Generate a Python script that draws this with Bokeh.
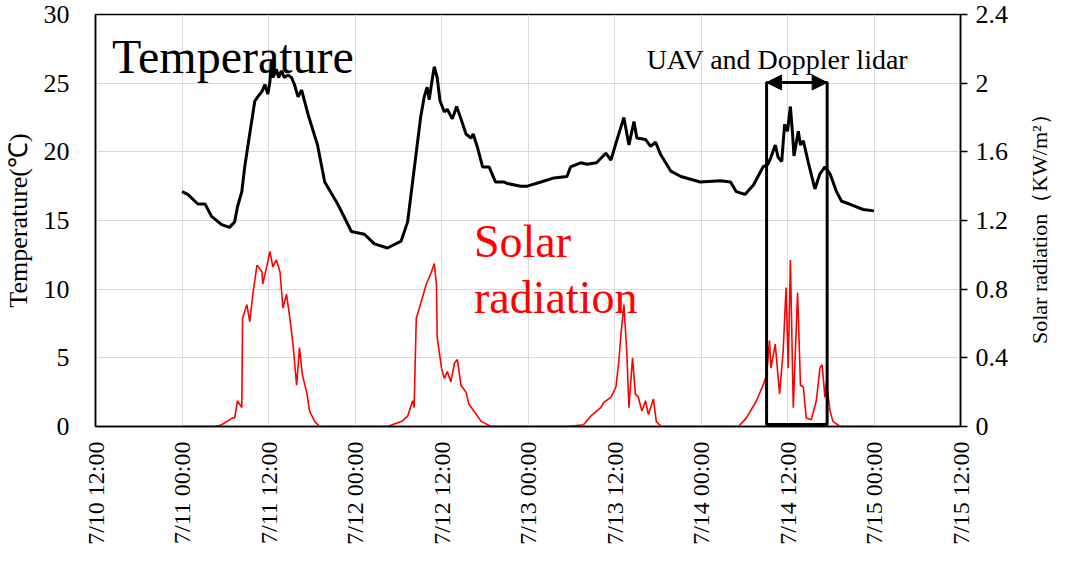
import math
from bokeh.plotting import figure
from bokeh.layouts import row
from bokeh.models import (Range1d, LinearAxis, FixedTicker, Label, Arrow, Div,
                          NormalHead, CustomJSTickFormatter)
from bokeh.embed import file_html
from bokeh.resources import INLINE

# ---------------- data (hours since 7/11 00:00) ----------------
temp_hours = [0.0, 0.8, 2.2, 3.2, 4.1, 5.5, 6.6, 7.3, 7.7, 8.3, 8.7, 9.1, 10.1, 10.5, 11.1, 11.5, 11.9,
              12.2, 12.4, 12.6, 13.1, 13.4, 13.8, 14.2, 14.7, 15.2, 15.6, 16.1, 16.6, 17.0, 17.5,
              18.8, 19.8, 21.6, 23.5, 25.3, 26.7, 28.5, 30.4, 31.3,
              33.1, 33.6, 34.0, 34.3, 34.6, 35.0, 35.4, 35.8, 36.4, 36.8, 37.5, 38.1, 38.7,
              39.4, 40.1, 40.4, 41.0, 41.7, 42.6, 43.5, 44.7,
              45.1, 47.0, 47.9, 49.8, 51.6, 53.4,
              53.9, 55.3, 56.2, 57.5, 58.8, 59.5, 60.3, 61.3, 62.0, 62.7, 63.1, 64.3,
              65.0, 65.7, 66.4, 67.8, 69.2, 71.9, 74.7, 76.1, 76.9, 78.1,
              79.3, 80.2, 80.6, 81.3, 81.7, 82.3, 82.7, 83.2, 83.6, 84.0, 84.4, 84.7, 84.9,
              85.5, 85.8, 86.2, 86.9, 87.8, 88.5, 89.2, 89.9, 90.8, 91.5, 92.6, 94.5, 96.0]
temp_values = [17.1, 16.9, 16.2, 16.2, 15.3, 14.7, 14.5, 14.9, 16.0, 17.1, 18.9, 20.3, 23.7, 24.0, 24.4, 24.9, 24.2,
               25.1, 26.7, 25.4, 26.0, 25.4, 25.9, 25.4, 25.6, 25.4, 24.9, 24.0, 24.5, 23.7, 22.7,
               20.5, 17.8, 16.2, 14.2, 14.0, 13.3, 13.0, 13.5, 14.9,
               22.5, 24.0, 24.7, 23.8, 24.9, 26.2, 25.4, 23.7, 22.9, 23.1, 22.4, 23.3, 22.4,
               21.3, 21.0, 21.3, 20.3, 18.9, 18.9, 17.8, 17.8,
               17.7, 17.5, 17.5, 17.8, 18.1, 18.2,
               18.9, 19.2, 19.1, 19.2, 19.9, 19.4, 20.8, 22.5, 20.5, 22.2, 21.0, 20.9,
               20.4, 20.7, 19.8, 18.6, 18.2, 17.8, 17.9, 17.8, 17.1, 16.9,
               17.6, 18.5, 18.9, 19.1, 19.6, 20.5, 19.6, 19.3, 22.0, 21.5, 23.3, 21.3, 19.7,
               21.5, 20.5, 20.8, 19.2, 17.3, 18.4, 18.9, 18.4, 17.1, 16.4, 16.2, 15.8, 15.7]

solar_hours = [0.0, 4.6, 5.5, 7.0, 7.3, 7.7, 8.3, 8.4, 9.0, 9.4, 9.8, 10.4, 11.1, 11.2, 11.8,
               12.2, 12.6, 13.1, 13.6, 14.0, 14.5, 14.9, 15.4, 15.9, 16.3, 16.7, 17.3, 17.7,
               18.4, 19.1,
               28.5, 30.5, 31.3, 32.0, 32.2, 32.5, 33.2, 33.9, 34.6, 35.0, 35.3, 35.4, 36.0,
               36.4, 36.8, 37.3, 37.8, 38.2, 38.7, 39.4, 39.8, 40.5, 41.5, 42.9,
               53.4, 55.7, 56.7, 58.1, 58.5, 59.5, 60.2, 60.6, 60.9, 61.3, 61.7, 62.0, 62.5,
               62.9, 63.3, 63.8, 64.3, 64.7, 65.4, 65.8, 66.5,
               77.2, 78.3, 79.7, 80.6, 81.1, 81.5, 81.7, 82.3, 82.9, 83.4, 83.8, 84.1, 84.4,
               84.8, 85.4, 85.8, 86.2, 86.6, 87.3, 88.0, 88.5, 88.8, 89.2, 89.4, 89.9, 90.3,
               91.3, 96.0]
solar_values = [0.0, 0.0, 0.01, 0.05, 0.05, 0.15, 0.11, 0.63, 0.71, 0.61, 0.76, 0.94, 0.90, 0.83, 0.94,
                1.02, 0.93, 0.97, 0.90, 0.69, 0.77, 0.65, 0.48, 0.24, 0.46, 0.30, 0.20, 0.09,
                0.03, 0.0,
                0.0, 0.03, 0.06, 0.15, 0.11, 0.63, 0.73, 0.83, 0.90, 0.95, 0.83, 0.52, 0.34,
                0.28, 0.32, 0.26, 0.37, 0.39, 0.24, 0.20, 0.13, 0.09, 0.03, 0.0,
                0.0, 0.01, 0.06, 0.11, 0.14, 0.17, 0.23, 0.38, 0.54, 0.71, 0.44, 0.11, 0.40,
                0.19, 0.17, 0.09, 0.15, 0.07, 0.16, 0.03, 0.0,
                0.0, 0.05, 0.15, 0.24, 0.30, 0.50, 0.34, 0.48, 0.19, 0.44, 0.81, 0.34, 0.97,
                0.11, 0.78, 0.24, 0.23, 0.05, 0.04, 0.15, 0.34, 0.36, 0.17, 0.26, 0.09, 0.03,
                0.0, 0.0]

x_tick_hours = [-12, 0, 12, 24, 36, 48, 60, 72, 84, 96, 108]
x_tick_labels = ["7/10 12:00", "7/11 00:00", "7/11 12:00", "7/12 00:00", "7/12 12:00",
                 "7/13 00:00", "7/13 12:00", "7/14 00:00", "7/14 12:00", "7/15 00:00",
                 "7/15 12:00"]
temp_ticks = [0, 5, 10, 15, 20, 25, 30]
solar_ticks = [0, 0.4, 0.8, 1.2, 1.6, 2.0, 2.4]
right_title = "Solar radiation（KW/m²）"

box_start_h, box_end_h = 81.1, 89.5
box_top, box_bottom = 25.05, 0.15

FONT = "Liberation Serif"

p = figure(width=1020, height=558, output_backend="svg", toolbar_location=None,
           x_range=Range1d(-12, 108), y_range=Range1d(0, 30),
           min_border_left=92, min_border_right=60, min_border_top=14,
           min_border_bottom=132)
p.outline_line_color = "black"
p.outline_line_width = 1.5
p.background_fill_color = "white"
p.border_fill_color = "white"

p.extra_y_ranges = {"sr": Range1d(0, 2.4)}

# grids
p.xgrid.ticker = FixedTicker(ticks=x_tick_hours)
p.ygrid.ticker = FixedTicker(ticks=temp_ticks)
for g in (p.xgrid, p.ygrid):
    g.grid_line_color = "#d9d9d9"
    g.grid_line_width = 1

# x axis
xa = p.xaxis[0]
xa.ticker = FixedTicker(ticks=x_tick_hours)
xa.major_label_overrides = {h: l for h, l in zip(x_tick_hours, x_tick_labels)}
xa.major_label_orientation = math.pi / 2
xa.major_label_text_font = FONT
xa.major_label_text_font_size = "24px"
xa.major_label_text_color = "black"
xa.major_tick_out = 0
xa.major_tick_in = 0
xa.minor_tick_out = 0
xa.minor_tick_in = 0
xa.major_label_standoff = 15
xa.axis_line_color = "black"
xa.axis_line_width = 1.5

# left axis
ya = p.yaxis[0]
ya.ticker = FixedTicker(ticks=temp_ticks)
ya.major_label_text_font = FONT
ya.major_label_text_font_size = "26px"
ya.major_label_text_color = "black"
ya.major_tick_out = 0
ya.major_tick_in = 0
ya.minor_tick_out = 0
ya.minor_tick_in = 0
ya.major_label_standoff = 26
ya.axis_label = "Temperature(℃)"
ya.axis_label_text_font = FONT
ya.axis_label_text_font_style = "normal"
ya.axis_label_text_font_size = "26px"
ya.axis_label_text_color = "black"
ya.axis_label_standoff = 8
ya.axis_line_color = "black"
ya.axis_line_width = 1.5

# right axis
ra = LinearAxis(y_range_name="sr", ticker=FixedTicker(ticks=solar_ticks))
ra.formatter = CustomJSTickFormatter(code="return (Math.round(tick*10)/10).toString();")
ra.major_label_text_font = FONT
ra.major_label_text_font_size = "26px"
ra.major_label_text_color = "black"
ra.major_tick_out = 7
ra.major_tick_in = 0
ra.minor_tick_out = 0
ra.minor_tick_in = 0
ra.major_tick_line_color = "black"
ra.major_tick_line_width = 1.5
ra.major_label_standoff = 8
ra.axis_line_color = "black"
ra.axis_line_width = 1.5
p.add_layout(ra, "right")

# data lines
p.line(solar_hours, solar_values, y_range_name="sr", line_color="red", line_width=1.6)
p.line(temp_hours, temp_values, line_color="black", line_width=3)

# box + arrow
p.quad(left=[box_start_h], right=[box_end_h], bottom=[box_bottom], top=[box_top],
       fill_color=None, line_color="black", line_width=3)
p.add_layout(Arrow(start=NormalHead(size=15, fill_color="black", line_color="black"),
                   end=NormalHead(size=15, fill_color="black", line_color="black"),
                   x_start=box_start_h, y_start=box_top, x_end=box_end_h, y_end=box_top,
                   line_width=3, line_color="black"))

# labels
p.add_layout(Label(x=-9.7, y=26.95, text="Temperature", text_font=FONT,
                   text_font_size="48px", text_color="black", text_baseline="alphabetic"))
p.add_layout(Label(x=40.5, y=13.47, text="Solar", text_font=FONT,
                   text_font_size="46px", text_color="red", text_baseline="alphabetic"))
p.add_layout(Label(x=40.5, y=9.4, text="radiation", text_font=FONT,
                   text_font_size="46px", text_color="red", text_baseline="alphabetic"))
p.add_layout(Label(x=82.6, y=26.7, text="UAV and Doppler lidar", text_font=FONT,
                   text_font_size="28px", text_color="black", text_align="center",
                   text_baseline="alphabetic"))

# right axis title (reads bottom-to-top)
title_html = (
    '<div style="writing-mode:vertical-rl; text-orientation:sideways; '
    'transform:rotate(180deg); height:412px; margin-top:18px; margin-left:8px; '
    'width:24px; line-height:24px; text-align:center; white-space:nowrap; '
    "font-family:'Liberation Serif'; font-size:22px; color:black;\">"
    + right_title + "</div>"
)
div = Div(text=title_html, width=32, height=558, margin=0)

layout = row(p, div, spacing=0)
open("out.html", "w").write(file_html(layout, INLINE))
